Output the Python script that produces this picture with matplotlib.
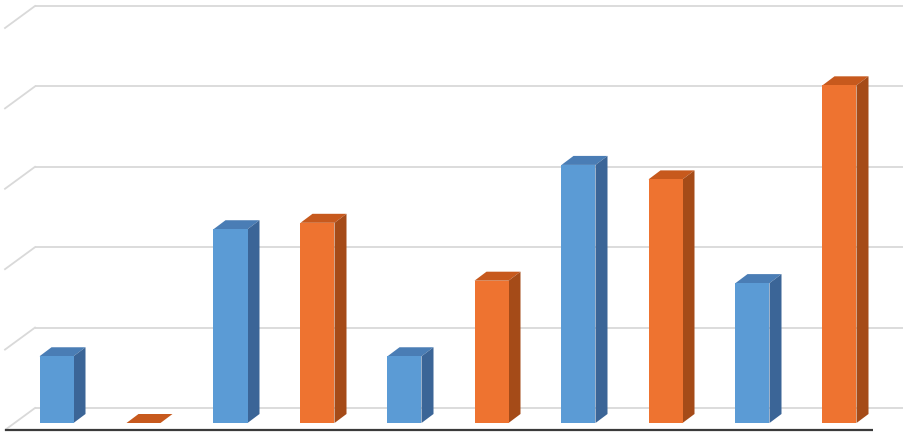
import matplotlib
matplotlib.use("Agg")
import matplotlib.pyplot as plt
from matplotlib.patches import Polygon

# Data
categories = ["1", "2", "3", "4", "5", "6", "7", "8", "9", "10"]
series_blue = [0.83, 2.41, 0.83, 3.21, 1.74]     # positions 0,2,4,6,8
series_orange = [0.0, 2.49, 1.77, 3.03, 4.20]    # positions 1,3,5,7,9
gridline_levels = [0, 1, 2, 3, 4, 5]

# Styles
BLUE = {"front": "#5B9BD5", "top": "#4A7DB5", "side": "#3B6597"}
ORANGE = {"front": "#EE7330", "top": "#C7591D", "side": "#A54B18"}
GRID = "#D9D9D9"

W, H = 912, 434
fig = plt.figure(figsize=(W / 100, H / 100), dpi=100)
ax = fig.add_axes([0, 0, 1, 1])
ax.axis("off")

PX_CAT = 87.0
PX_VAL = 80.4
X0 = 56.5   # pixel centre of first bar
Y0 = 423.0  # pixel (from top) of zero on bar front
ax.set_xlim(-X0 / PX_CAT, (W - X0) / PX_CAT)
ax.set_ylim((Y0 - H) / PX_VAL, Y0 / PX_VAL)

# depth offsets in data units
bar_dx, bar_dy = 12 / PX_CAT, 9 / PX_VAL
wall_back = 15 / PX_VAL
floor_front = -7 / PX_VAL
back_x0, back_x1 = (35 - X0) / PX_CAT, (903 - X0) / PX_CAT
front_x0, front_x1 = (5 - X0) / PX_CAT, (873 - X0) / PX_CAT

for k in gridline_levels:
    ax.plot([back_x0, back_x1], [k + wall_back] * 2, color=GRID, lw=1.3,
            solid_capstyle="butt", zorder=1)
    ax.plot([front_x0, back_x0], [k + floor_front, k + wall_back], color=GRID,
            lw=1.3, zorder=1)
ax.plot([front_x0, front_x1], [floor_front] * 2, color="#3A3A3A", lw=1.6,
        solid_capstyle="butt", zorder=5)

bw = 34 / PX_CAT


def bar3d(xc, v, col):
    x0, x1 = xc - bw / 2, xc + bw / 2
    top = Polygon([(x0, v), (x1, v), (x1 + bar_dx, v + bar_dy), (x0 + bar_dx, v + bar_dy)],
                  closed=True, facecolor=col["top"], edgecolor="none", zorder=3)
    side = Polygon([(x1, 0), (x1 + bar_dx, bar_dy), (x1 + bar_dx, v + bar_dy), (x1, v)],
                   closed=True, facecolor=col["side"], edgecolor="none", zorder=3)
    ax.add_patch(top)
    if v > 0:
        ax.add_patch(side)
        ax.bar([xc], [v], width=bw, color=col["front"], zorder=4)


for i, v in enumerate(series_blue):
    bar3d(2 * i, v, BLUE)
for i, v in enumerate(series_orange):
    bar3d(2 * i + 1, v, ORANGE)

fig.savefig("out.png", dpi=100)
